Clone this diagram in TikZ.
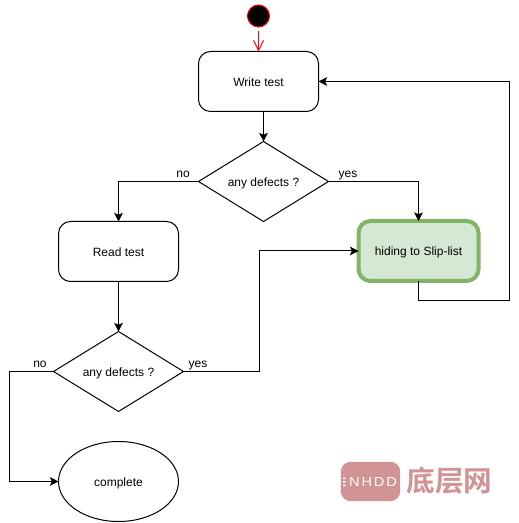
\documentclass[tikz,border=0pt]{standalone}
\usepackage{fontspec}
\setmainfont{Liberation Sans}
\newfontfamily\cjk{Noto Sans CJK SC}[BoldFont={* Bold}]
\newfontfamily\wmfont[LetterSpace=14,FakeStretch=1.12]{Liberation Sans}
\usetikzlibrary{arrows.meta,shapes.geometric}
\definecolor{wm}{HTML}{D29394}
\definecolor{hsline}{RGB}{130,179,102}
\definecolor{hsfill}{RGB}{213,232,212}
\tikzset{
 x=0.75pt,y=-0.75pt,
 every node/.style={font=\fontsize{9}{11}\selectfont,text=black,inner sep=0pt,outer sep=0pt},
 conn/.style={draw=black,line width=0.75pt,-{Stealth[length=6.5pt,width=6.5pt,inset=1.5pt]}},
 txt/.style={text height=7pt,text depth=0pt},
 rbox/.style={txt,draw=black,line width=0.75pt,rounded corners=9pt,minimum width=90pt,minimum height=45pt},
 dia/.style={txt,draw=black,line width=0.75pt,diamond,aspect=1.625,minimum width=97.5pt,minimum height=60pt},
 lab/.style={font=\fontsize{9}{11}\selectfont,anchor=base},
}
\begin{document}
\begin{tikzpicture}
\useasboundingbox (0,0.5) rectangle (518,523.5);
\fill[white] (0,0.5) rectangle (518,523.5);
\node[circle,draw=red,line width=0.75pt,fill=black,minimum size=16.5pt] (start) at (258.5,16.5) {};
\node[rbox] (wt) at (258.5,82) {Write test};
\node[dia] (d1) at (263.5,182) {any defects ?};
\node[rbox] (rt) at (118.5,252) {Read test};
\node[dia] (d2) at (118.5,372) {any defects ?};
\node[txt,draw=black,line width=0.75pt,ellipse,minimum width=90pt,minimum height=60pt] (co) at (118.5,482) {complete};
\node[txt,draw=hsline,fill=hsfill,line width=3pt,rounded corners=9pt,minimum width=90pt,minimum height=45pt] (hs) at (418.5,251.5) {hiding to Slip-list};
\draw[red,line width=0.75pt,shorten <=3pt,-{Straight Barb[length=7.5pt,width=7.5pt]}] (start.south) -- (start.south |- wt.north);
\draw[conn] (d1.north |- wt.south) -- (d1.north);
\draw[conn] (d1.west) -| (rt.north);
\draw[conn] (d1.east) -| (hs.north);
\draw[conn] (rt.south) -- (d2.north);
\coordinate (c1) at (259,372);
\coordinate (c2) at (509,82);
\coordinate (c3) at (9,372);
\coordinate (c4) at (418.5,301);
\draw[conn] (d2.east) -- (c1) |- (hs.west);
\draw[conn] (hs.south) |- (c2 |- c4) -- (c2) -- (wt.east);
\draw[conn] (d2.west) -- (c3) |- (co.west);
\node[lab] (l1) at (183,178) {no};
\node[lab] (l2) at (348,178) {yes};
\node[lab] (l3) at (198,368) {yes};
\node[lab] (l4) at (40,368) {no};
\node[fill=wm,rounded corners=7.5pt,minimum width=44.6pt,minimum height=29.6pt] (wm1) at (370.5,482) {};
\node[font=\wmfont\fontsize{9.8}{12}\selectfont,text=white] (wm3) at (373,482) {NHDD};
\fill[white] (343,478) rectangle +(2.5,1.5) (343,481.5) rectangle +(2.5,1.5) (343,485) rectangle +(2.5,1.5);
\node[font=\cjk\bfseries\fontsize{21.5}{24}\selectfont,text=wm] (wm2) at (449.5,481.5) {底层网};
\end{tikzpicture}
\end{document}
